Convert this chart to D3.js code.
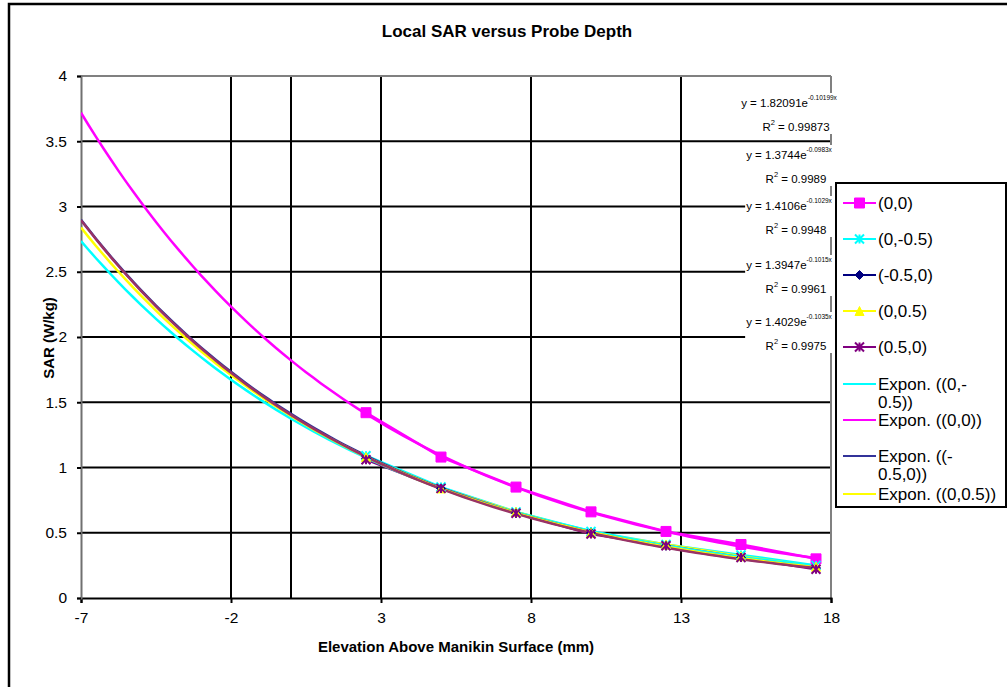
<!DOCTYPE html>
<html>
<head>
<meta charset="utf-8">
<script src="https://cdn.jsdelivr.net/npm/d3@7"></script>
<style>
  body { margin: 0; background: #fff; }
  svg { font-family: "Liberation Sans", Arial, sans-serif; }
</style>
</head>
<body>
<svg id="chart" width="1007" height="687"></svg>
<script>
// data
var xVals = [2.5, 5, 7.5, 10, 12.5, 15, 17.5];
var s00   = [1.42, 1.08, 0.85, 0.66, 0.51, 0.41, 0.30];
var s0m5  = [1.09, 0.85, 0.66, 0.51, 0.41, 0.33, 0.25];
var sm50  = [1.07, 0.84, 0.65, 0.50, 0.40, 0.31, 0.23];
var s05   = [1.08, 0.84, 0.66, 0.50, 0.41, 0.32, 0.24];
var s50   = [1.06, 0.84, 0.65, 0.49, 0.40, 0.31, 0.22];

var seriesNames = ["(0,0)", "(0,-0.5)", "(-0.5,0)", "(0,0.5)", "(0.5,0)"];
var seriesColors = ["#ff00ff", "#00ffff", "#000080", "#ffff00", "#800080"];
var trendColors = ["#ff00ff", "#00ffff", "#333399", "#ffff00", "#993366"];
var seriesMarkers = ["square", "star", "diamond", "triangle", "asterisk"];
var seriesData = [s00, s0m5, sm50, s05, s50];

// trendline coefficients (y = a e^(b x)) from the labels
var trendA = [1.82091, 1.3744, 1.4106, 1.3947, 1.4029];
var trendB = [-0.10199, -0.0983, -0.1029, -0.1015, -0.1035];
var trendR2 = ["0.99873", "0.9989", "0.9948", "0.9961", "0.9975"];
var trendEq = [["1.82091", "-0.10199x"], ["1.3744", "-0.0983x"], ["1.4106", "-0.1029x"],
               ["1.3947", "-0.1015x"], ["1.4029", "-0.1035x"]];
var trendOrder = [1, 0, 2, 3, 4]; // drawing / legend order

var xTicks = [-7, -2, 3, 8, 13, 18];
var yTicks = [0, 0.5, 1, 1.5, 2, 2.5, 3, 3.5, 4];

var svg = d3.select("#chart");

// outer chart border (right/bottom are off the picture)
svg.append("rect").attr("x", 9).attr("y", 4).attr("width", 1010).attr("height", 700)
    .attr("fill", "none").attr("stroke", "#000").attr("stroke-width", 2.5);

var x = d3.scaleLinear().domain([-7, 18]).range([81, 831]);
var y = d3.scaleLinear().domain([0, 4]).range([598, 76]);

// title
svg.append("text").attr("x", 507).attr("y", 37).attr("text-anchor", "middle")
    .attr("font-weight", "bold").attr("font-size", 17).text("Local SAR versus Probe Depth");

// gridlines
var grid = svg.append("g");
grid.selectAll("line.h").data(yTicks.slice(1)).enter().append("line")
    .attr("x1", x(-7)).attr("x2", x(18))
    .attr("y1", function(d) { return y(d); }).attr("y2", function(d) { return y(d); })
    .attr("stroke", "#000").attr("stroke-width", 2);
grid.selectAll("line.v").data([-2, 3, 8, 13]).enter().append("line")
    .attr("y1", y(0)).attr("y2", y(4))
    .attr("x1", function(d) { return x(d); }).attr("x2", function(d) { return x(d); })
    .attr("stroke", "#000").attr("stroke-width", 2);
// vertical axis crossing at 0
grid.append("line").attr("x1", x(0)).attr("x2", x(0)).attr("y1", y(0)).attr("y2", y(4))
    .attr("stroke", "#000").attr("stroke-width", 2);

// plot border top/right
svg.append("line").attr("x1", x(-7)).attr("x2", x(18)).attr("y1", y(4)).attr("y2", y(4))
    .attr("stroke", "#808080").attr("stroke-width", 2);
svg.append("line").attr("x1", x(18)).attr("x2", x(18)).attr("y1", y(4)).attr("y2", y(0))
    .attr("stroke", "#808080").attr("stroke-width", 2);

// axes
var fmt = function(d) { return String(d); };
var xAxis = svg.append("g").attr("transform", "translate(0," + y(0) + ")")
    .call(d3.axisBottom(x).tickValues(xTicks).tickSize(5).tickPadding(9).tickFormat(fmt));
var yAxis = svg.append("g").attr("transform", "translate(" + x(-7) + ",0)")
    .call(d3.axisLeft(y).tickValues(yTicks).tickSize(4).tickPadding(10).tickFormat(fmt));
[xAxis, yAxis].forEach(function(a) {
    a.selectAll("path").attr("stroke", "#000").attr("stroke-width", 2);
    a.selectAll("line").attr("stroke", "#000").attr("stroke-width", 2);
    a.selectAll("text").attr("font-size", 15.5).attr("fill", "#000")
        .attr("font-family", "Liberation Sans, Arial, sans-serif");
});
yAxis.select("path").attr("stroke", "#707070");

// axis titles
svg.append("text").attr("x", 456).attr("y", 652).attr("text-anchor", "middle")
    .attr("font-weight", "bold").attr("font-size", 15).text("Elevation Above Manikin Surface (mm)");
svg.append("text").attr("transform", "translate(54," + 338 + ") rotate(-90)")
    .attr("text-anchor", "middle").attr("font-weight", "bold").attr("font-size", 15).text("SAR (W/kg)");

svg.append("clipPath").attr("id", "plotclip").append("rect")
    .attr("x", x(-7)).attr("y", y(4)).attr("width", x(18) - x(-7)).attr("height", y(0) - y(4));

var plot = svg.append("g").attr("clip-path", "url(#plotclip)");

function markerPath(type, s) {
    if (type === "square") return "M" + (-s) + "," + (-s) + "h" + 2 * s + "v" + 2 * s + "h" + (-2 * s) + "Z";
    if (type === "diamond") return "M0," + (-s) + "L" + s + ",0L0," + s + "L" + (-s) + ",0Z";
    if (type === "triangle") return "M0," + (-s) + "L" + s + "," + s + "L" + (-s) + "," + s + "Z";
    // star / asterisk: x with vertical bar
    return "M" + (-s) + "," + (-s) + "L" + s + "," + s + "M" + s + "," + (-s) + "L" + (-s) + "," + s + "M0," + (-s) + "L0," + s;
}
function drawMarker(g, type, color, cx, cy) {
    var filled = (type === "square" || type === "diamond" || type === "triangle");
    var sz = type === "square" ? 5 : 4.5;
    g.append("path").attr("transform", "translate(" + cx + "," + cy + ")")
        .attr("d", markerPath(type, sz))
        .attr("fill", filled ? color : "none")
        .attr("stroke", color).attr("stroke-width", filled ? 1 : 2);
}

// data series lines
var line = d3.line().x(function(d) { return x(d[0]); }).y(function(d) { return y(d[1]); });
seriesData.forEach(function(vals, i) {
    var pts = xVals.map(function(xv, j) { return [xv, vals[j]]; });
    plot.append("path").datum(pts).attr("d", line).attr("fill", "none")
        .attr("stroke", seriesColors[i]).attr("stroke-width", 2.5);
});

// trendlines
var trendX = d3.range(-7, 17.5001, 0.25);
trendOrder.forEach(function(i) {
    var pts = trendX.map(function(xv) { return [xv, trendA[i] * Math.exp(trendB[i] * xv)]; });
    plot.append("path").datum(pts).attr("d", line).attr("fill", "none")
        .attr("stroke", trendColors[i]).attr("stroke-width", 2.5);
});

// markers
seriesData.forEach(function(vals, i) {
    xVals.forEach(function(xv, j) {
        drawMarker(plot, seriesMarkers[i], seriesColors[i], x(xv), y(vals[j]));
    });
});

// trendline equation labels (white background like the original)
var eqY = [103, 155, 206, 265, 322];
trendEq.forEach(function(eq, i) {
    var g = svg.append("g");
    var t = g.append("text").attr("x", 789).attr("y", eqY[i] + 4).attr("text-anchor", "middle")
        .attr("font-size", 11.5);
    t.append("tspan").text("y = " + eq[0] + "e");
    t.append("tspan").attr("dy", -7).attr("font-size", 6.5).text(eq[1]);
    var r = g.append("text").attr("x", 796).attr("y", eqY[i] + 28).attr("text-anchor", "middle")
        .attr("font-size", 11.5);
    r.append("tspan").text("R");
    r.append("tspan").attr("dy", -6).attr("font-size", 7.5).text("2");
    r.append("tspan").attr("dy", 6).text(" = " + trendR2[i]);
    var b = g.node().getBBox();
    g.insert("rect", "text").attr("x", b.x - 1).attr("y", b.y - 1)
        .attr("width", b.width + 2).attr("height", b.height + 2).attr("fill", "#fff");
});

// legend
var lg = svg.append("g");
lg.append("rect").attr("x", 836).attr("y", 183).attr("width", 170).attr("height", 324)
    .attr("fill", "#fff").attr("stroke", "#000").attr("stroke-width", 2);
var legY = [203, 239, 275, 311, 347];
seriesNames.forEach(function(name, i) {
    lg.append("line").attr("x1", 843).attr("x2", 876).attr("y1", legY[i]).attr("y2", legY[i])
        .attr("stroke", seriesColors[i]).attr("stroke-width", 2);
    drawMarker(lg, seriesMarkers[i], seriesColors[i], 859.5, legY[i]);
    lg.append("text").attr("x", 878).attr("y", legY[i] + 6).attr("font-size", 17).text(name);
});
var trendLegY = [384, 420, 456, 494];
var trendLegText = [["Expon. ((0,-", "0.5))"], ["Expon. ((0,0))"], ["Expon. ((-", "0.5,0))"], ["Expon. ((0,0.5))"]];
trendLegText.forEach(function(lines, k) {
    var i = trendOrder[k];
    lg.append("line").attr("x1", 843).attr("x2", 876).attr("y1", trendLegY[k]).attr("y2", trendLegY[k])
        .attr("stroke", trendColors[i]).attr("stroke-width", 2);
    lines.forEach(function(s, m) {
        lg.append("text").attr("x", 878).attr("y", trendLegY[k] + 6 + m * 18).attr("font-size", 17).text(s);
    });
});
</script>
</body>
</html>
